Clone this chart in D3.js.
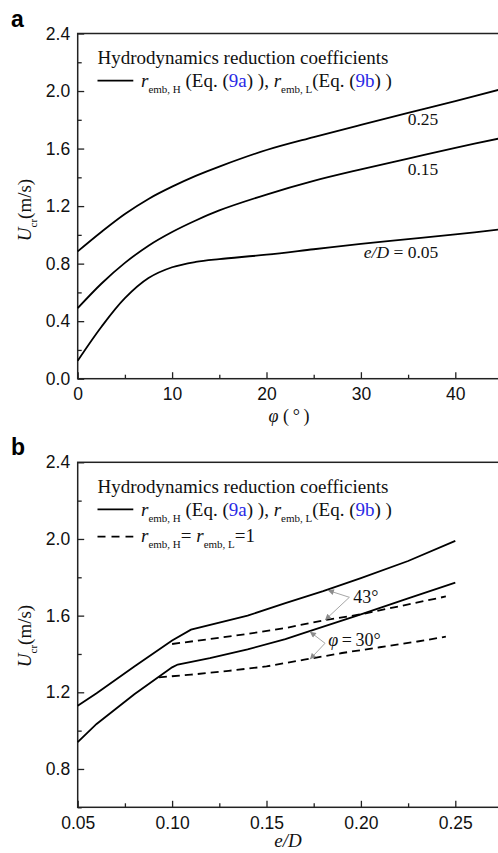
<!DOCTYPE html>
<html><head><meta charset="utf-8">
<script src="https://cdn.jsdelivr.net/npm/d3@7"></script>
<style>body{margin:0;background:#fff} svg{display:block}</style>
</head><body>
<svg id="c" width="498" height="853"></svg>
<script>
// ---------- data ----------
// panel a: U_cr vs phi for e/D values
const phiDeg = [0, 2.5, 5, 7.5, 10, 12.5, 15, 20, 25, 30, 35, 40, 45];
const uA025 = [0.885, 1.02, 1.145, 1.25, 1.335, 1.41, 1.475, 1.59, 1.68, 1.765, 1.848, 1.93, 2.015];
const uA015 = [0.49, 0.66, 0.805, 0.925, 1.02, 1.10, 1.17, 1.28, 1.375, 1.455, 1.53, 1.605, 1.675];
const uA005 = [0.125, 0.36, 0.56, 0.70, 0.775, 0.812, 0.832, 0.862, 0.90, 0.938, 0.97, 1.003, 1.04];
const seriesALabels = ["0.25", "0.15", "0.05"];

// panel b: U_cr vs e/D
const eD43Solid = [0.05, 0.06, 0.08, 0.10, 0.11, 0.14, 0.16, 0.18, 0.20, 0.225, 0.25];
const u43Solid  = [1.13, 1.195, 1.335, 1.47, 1.527, 1.60, 1.665, 1.728, 1.796, 1.885, 1.99];
const eD30Solid = [0.05, 0.06, 0.08, 0.10, 0.103, 0.12, 0.14, 0.16, 0.17, 0.20, 0.225, 0.25];
const u30Solid  = [0.94, 1.035, 1.19, 1.33, 1.345, 1.378, 1.424, 1.478, 1.51, 1.607, 1.69, 1.772];
const eD43Dash  = [0.10, 0.12, 0.14, 0.16, 0.18, 0.20, 0.22, 0.245];
const u43Dash   = [1.452, 1.478, 1.505, 1.535, 1.575, 1.607, 1.648, 1.70];
const eD30Dash  = [0.093, 0.11, 0.13, 0.15, 0.17, 0.19, 0.21, 0.23, 0.245];
const u30Dash   = [1.278, 1.292, 1.312, 1.335, 1.37, 1.405, 1.435, 1.465, 1.49];

// ticks
const aXMajor = [0, 10, 20, 30, 40];
const aXMinor = [5, 15, 25, 35, 45];
const aYMajor = [0.0, 0.4, 0.8, 1.2, 1.6, 2.0, 2.4];
const aYMinor = [0.2, 0.6, 1.0, 1.4, 1.8, 2.2];
const bXMajor = [0.05, 0.10, 0.15, 0.20, 0.25];
const bXMinor = [0.075, 0.125, 0.175, 0.225, 0.275];
const bYMajor = [0.8, 1.2, 1.6, 2.0, 2.4];
const bYMinor = [0.6, 1.0, 1.4, 1.8, 2.2];

// ---------- drawing ----------
const svg = d3.select('#c');
svg.append('rect').attr('width', 498).attr('height', 853).attr('fill', '#fff');
const serif = '"Liberation Serif","Times New Roman",serif';
const sans = '"Liberation Sans",Arial,sans-serif';
const BLUE = '#2a2ae6';
const GRAY = '#a6a6a6';

const X0 = 77.7, X1 = 502.5;

function axes(g, x, y, xMaj, xMin, yMaj, yMin, xFmt, yFmt, top, bot) {
  const mk = (sel) => { sel.select('.domain').remove();
    sel.selectAll('line').attr('stroke', '#222').attr('stroke-width', 1.3);
    sel.selectAll('text').attr('font-family', sans).attr('font-size', 17.5).attr('fill', '#111'); };
  g.append('g').attr('transform', `translate(0,${bot})`)
    .call(d3.axisBottom(x).tickValues(xMaj).tickFormat(xFmt).tickSize(-6.5).tickSizeOuter(0).tickPadding(9)).call(mk);
  g.append('g').attr('transform', `translate(0,${bot})`)
    .call(d3.axisBottom(x).tickValues(xMin).tickFormat('').tickSize(-4).tickSizeOuter(0)).call(mk);
  g.append('g').attr('transform', `translate(${X0},0)`)
    .call(d3.axisLeft(y).tickValues(yMaj).tickFormat(yFmt).tickSize(-6.5).tickSizeOuter(0).tickPadding(7.5)).call(mk);
  g.append('g').attr('transform', `translate(${X0},0)`)
    .call(d3.axisLeft(y).tickValues(yMin).tickFormat('').tickSize(-4).tickSizeOuter(0)).call(mk);
  g.append('rect').attr('x', X0).attr('y', top).attr('width', X1 - X0).attr('height', bot - top)
    .attr('fill', 'none').attr('stroke', '#222').attr('stroke-width', 1.5);
}

// rich text helper: parts = [{t, it, sub, col}]
function rich(g, x, y, parts, size, subSize, anchor) {
  const t = g.append('text').attr('x', x).attr('y', y).attr('font-family', serif)
    .attr('font-size', size).attr('fill', '#111').attr('text-anchor', anchor || 'start');
  let shift = 0;
  parts.forEach(p => {
    const target = p.sub ? 5.5 : 0;
    const s = t.append('tspan').text(p.t).attr('dy', target - shift);
    shift = target;
    if (p.it) s.attr('font-style', 'italic');
    if (p.sub) s.attr('font-size', subSize);
    if (p.col) s.attr('fill', p.col);
    if (p.dx) s.attr('dx', p.dx);
  });
  return t;
}

function yTitle(g, cx, cy) {
  const t = g.append('text').attr('transform', `translate(${cx},${cy}) rotate(-90)`)
    .attr('text-anchor', 'middle').attr('font-family', serif).attr('font-size', 19).attr('fill', '#111');
  t.append('tspan').text('U').attr('font-style', 'italic');
  t.append('tspan').text('cr').attr('font-size', 11).attr('dy', 5.5);
  t.append('tspan').text('(m/s)').attr('dy', -5.5);
}

const line2Parts = [
  {t: 'r', it: true}, {t: 'emb, H', sub: true}, {t: '\u00a0(Eq. ('}, {t: '9a', col: BLUE}, {t: ') ), '},
  {t: 'r', it: true}, {t: 'emb, L', sub: true}, {t: '(Eq. ('}, {t: '9b', col: BLUE}, {t: ') )'}
];

// ===== Panel a =====
const gA = svg.append('g');
const xA = d3.scaleLinear().domain([0, 45]).range([X0, X1]);
const yA = d3.scaleLinear().domain([0, 2.4]).range([378.7, 33.5]);
axes(gA, xA, yA, aXMajor, aXMinor, aYMajor, aYMinor, d3.format('d'), d3.format('.1f'), 33.5, 378.7);

const lineA = d3.line().x(d => xA(d[0])).y(d => yA(d[1])).curve(d3.curveCatmullRom.alpha(0.5));
[uA025, uA015, uA005].forEach(arr => {
  gA.append('path').attr('d', lineA(phiDeg.map((p, i) => [p, arr[i]])))
    .attr('fill', 'none').attr('stroke', '#000').attr('stroke-width', 1.8);
});
// curve labels
rich(gA, xA(38.2), yA(1.764), [{t: seriesALabels[0]}], 17.5, 11, 'end');
rich(gA, xA(38.2), yA(1.416), [{t: seriesALabels[1]}], 17.5, 11, 'end');
rich(gA, xA(38.2), yA(0.837), [{t: 'e/D', it: true}, {t: ' = ' + seriesALabels[2]}], 17.5, 11, 'end');

// legend
rich(gA, 97.5, 64.3, [{t: 'Hydrodynamics reduction coefficients'}], 19, 11);
gA.append('line').attr('x1', 97.5).attr('x2', 133.3).attr('y1', 80.7).attr('y2', 80.7)
  .attr('stroke', '#000').attr('stroke-width', 1.8);
rich(gA, 141, 87.3, line2Parts, 19, 11);

// axis titles
yTitle(gA, 31, 210);
const tA = gA.append('text').attr('x', 289).attr('y', 422).attr('text-anchor', 'middle')
  .attr('font-family', serif).attr('font-size', 18).attr('fill', '#111');
tA.append('tspan').text('φ').attr('font-style', 'italic');
tA.append('tspan').text('\u00a0(\u2009°\u2009)');
gA.append('text').attr('x', 11).attr('y', 26.5).text('a').attr('font-family', sans)
  .attr('font-weight', 'bold').attr('font-size', 23).attr('fill', '#000');

// ===== Panel b =====
const gB = svg.append('g');
const xB = d3.scaleLinear().domain([0.05, 0.275]).range([X0, X1]);
const yB = d3.scaleLinear().domain([0.6, 2.4]).range([807.3, 462.3]);
axes(gB, xB, yB, bXMajor, bXMinor, bYMajor, bYMinor, d3.format('.2f'), d3.format('.1f'), 462.3, 807.3);

const lineB = d3.line().x(d => xB(d[0])).y(d => yB(d[1]));
const zipB = (xs, ys) => xs.map((v, i) => [v, ys[i]]);
[[eD43Solid, u43Solid, null], [eD30Solid, u30Solid, null], [eD43Dash, u43Dash, '8,5'], [eD30Dash, u30Dash, '8,5']]
  .forEach(([xs, ys, dash]) => {
    const p = gB.append('path').attr('d', lineB(zipB(xs, ys)))
      .attr('fill', 'none').attr('stroke', '#000').attr('stroke-width', 1.8);
    if (dash) p.attr('stroke-dasharray', dash);
  });

// legend
rich(gB, 97.5, 493.3, [{t: 'Hydrodynamics reduction coefficients'}], 19, 11);
gB.append('line').attr('x1', 97.5).attr('x2', 133.3).attr('y1', 509.3).attr('y2', 509.3)
  .attr('stroke', '#000').attr('stroke-width', 1.8);
rich(gB, 141, 516.3, line2Parts, 19, 11);
gB.append('line').attr('x1', 97.5).attr('x2', 133.3).attr('y1', 536.7).attr('y2', 536.7)
  .attr('stroke', '#000').attr('stroke-width', 1.8).attr('stroke-dasharray', '8,6');
rich(gB, 141, 542.3, [{t: 'r', it: true}, {t: 'emb, H', sub: true}, {t: '= '}, {t: 'r', it: true},
  {t: 'emb, L', sub: true}, {t: '=1'}], 19, 11);

// annotations (arrows)
const defs = svg.append('defs');
defs.append('marker').attr('id', 'ah').attr('viewBox', '0 0 10 10').attr('refX', 10).attr('refY', 5)
  .attr('markerWidth', 7).attr('markerHeight', 6).attr('markerUnits', 'userSpaceOnUse')
  .attr('orient', 'auto').append('path').attr('d', 'M0,0 L10,5 L0,10 z').attr('fill', '#8c8c8c');
function arrow(v, t) {
  gB.append('line').attr('x1', xB(v[0])).attr('y1', yB(v[1])).attr('x2', xB(t[0])).attr('y2', yB(t[1]))
    .attr('stroke', GRAY).attr('stroke-width', 1).attr('marker-end', 'url(#ah)');
}
arrow([0.1939, 1.6957], [0.1825, 1.732]);
arrow([0.1939, 1.6957], [0.181, 1.577]);
arrow([0.181, 1.4557], [0.173, 1.516]);
arrow([0.181, 1.4557], [0.173, 1.372]);
rich(gB, xB(0.196), yB(1.664), [{t: '43°'}], 18, 11);
rich(gB, xB(0.1827), yB(1.4416), [{t: 'φ', it: true}, {t: '\u2009=\u200930°'}], 18, 11);

// axis titles
yTitle(gB, 31, 636);
rich(gB, 288, 847, [{t: 'e/D', it: true}], 19, 11, 'middle');
gB.append('text').attr('x', 11).attr('y', 455).text('b').attr('font-family', sans)
  .attr('font-weight', 'bold').attr('font-size', 23).attr('fill', '#000');
</script>
</body></html>
